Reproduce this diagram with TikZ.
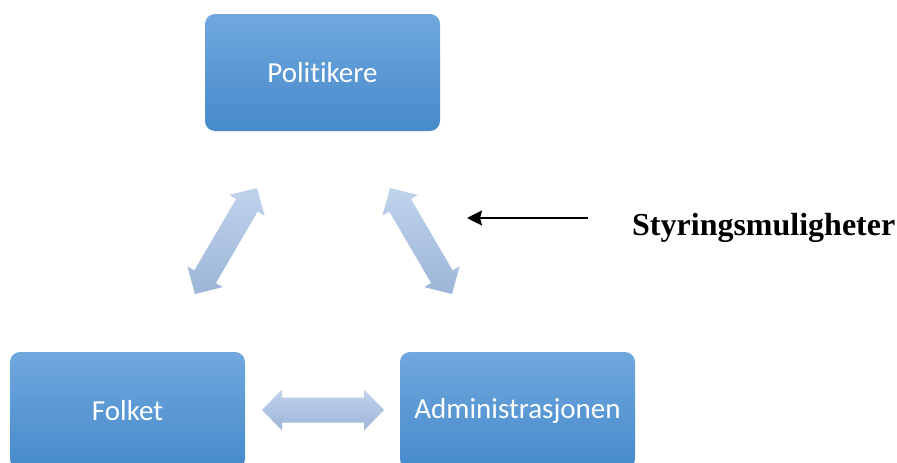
\documentclass[tikz,border=0pt]{standalone}
\usepackage{fontspec}
\setmainfont{Liberation Serif}
\newfontfamily\boxfont[Ligatures={NoCommon}]{Carlito}
\usetikzlibrary{calc,arrows.meta}

\definecolor{boxtop}{HTML}{70A8DE}
\definecolor{boxbot}{HTML}{468ACB}
\definecolor{arrtop}{HTML}{C0D3EC}
\definecolor{arrbot}{HTML}{9CB5D8}

\tikzset{
  actor/.style={rectangle, rounded corners=10pt, minimum width=235pt,
    minimum height=117pt, top color=boxtop, bottom color=boxbot,
    draw=none, text=white, font=\boxfont\fontsize{29}{34}\selectfont},
  fatarrow/.style={top color=arrtop, bottom color=arrbot, draw=none},
  pointer/.style={draw=black, line width=2pt,
    -{Stealth[length=15pt,width=15pt,inset=2pt]}},
  caption/.style={font=\bfseries\fontsize{32}{36}\selectfont, text=black}
}

% double-headed block arrow between two named tips
\newcommand\blockarrow[2]{%
  \path[fatarrow] (#1)
    -- ($(#1)!20pt!(#2)!20.5pt!90:(#2)$)
    -- ($(#1)!20pt!(#2)!12.5pt!90:(#2)$)
    -- ($(#2)!20pt!(#1)!12.5pt!-90:(#1)$)
    -- ($(#2)!20pt!(#1)!20.5pt!-90:(#1)$)
    -- (#2)
    -- ($(#2)!20pt!(#1)!20.5pt!90:(#1)$)
    -- ($(#2)!20pt!(#1)!12.5pt!90:(#1)$)
    -- ($(#1)!20pt!(#2)!12.5pt!-90:(#2)$)
    -- ($(#1)!20pt!(#2)!20.5pt!-90:(#2)$)
    -- cycle;}

\begin{document}
\begin{tikzpicture}[x=1pt, y=-1pt]
  \useasboundingbox (0,0) rectangle (897,463);
  \clip (0,0) rectangle (897,463);

  % the three actors
  \node[actor] (pol) at (322.5,72.5) {Politikere};
  \node[actor] (folk) at (127.5,410.5) {Folket};
  \node[actor] (adm) at (517.5,410.5) {Administrasjonen};

  % tips of the block arrows between the actors
  \coordinate (lt) at (257,188);
  \coordinate (lb) at (195,294);
  \coordinate (rt) at (390,188);
  \coordinate (rb) at (452,294);
  \coordinate (hl) at (262,410);
  \coordinate (hr) at (384,410);

  \blockarrow{lt}{lb}
  \blockarrow{rt}{rb}
  \blockarrow{hl}{hr}

  % label pointing at the relations
  \node[caption, anchor=base west, inner sep=0pt] (cap) at (632,235) {Styringsmuligheter};
  \coordinate (pfrom) at (588,218);
  \coordinate (pto) at (467,218);
  \draw[pointer] (pfrom) -- (pto);
\end{tikzpicture}
\end{document}
